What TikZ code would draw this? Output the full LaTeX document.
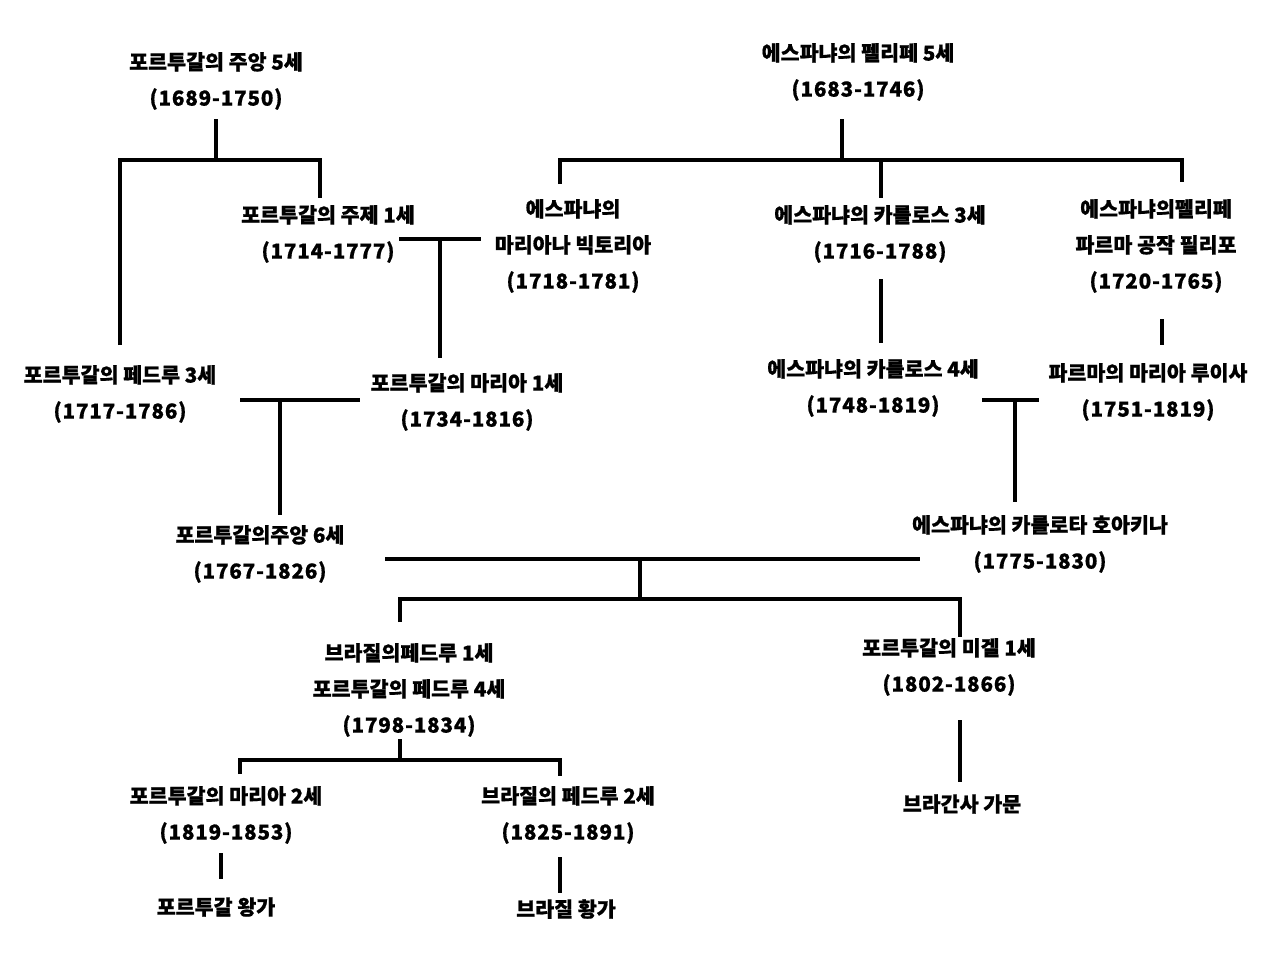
\documentclass[tikz,border=0pt]{standalone}
\usepackage{fontspec}
\setmainfont{Noto Sans CJK KR}[BoldFeatures={FakeBold=0.8}]
\newfontfamily\datefont{Noto Sans CJK KR}[LetterSpace=4,BoldFeatures={FakeBold=0.8}]
\newcommand\dt[1]{{\datefont\bfseries #1}}
\tikzset{
  lbl/.style={align=center, inner sep=0pt, text=black,
    font=\fontsize{10.3}{18}\selectfont\bfseries},
  ln/.style={line width=2pt, draw=black},
}
\begin{document}
\begin{tikzpicture}[x=0.5pt,y=-0.5pt]
\fill[white] (0,0) rectangle (1280,960);
\useasboundingbox (0,0) rectangle (1280,960);

% people
\node[lbl] (joao5) at (216,81) {포르투갈의 주앙 5세\\\dt{(1689-1750)}};
\node[lbl] (felipe5) at (858,72) {에스파냐의 펠리페 5세\\\dt{(1683-1746)}};
\node[lbl] (jose1) at (328,234) {포르투갈의 주제 1세\\\dt{(1714-1777)}};
\node[lbl] (mariana) at (573,246) {에스파냐의\\마리아나 빅토리아\\\dt{(1718-1781)}};
\node[lbl] (carlos3) at (880,234) {에스파냐의 카를로스 3세\\\dt{(1716-1788)}};
\node[lbl] (felipeparma) at (1156,246) {에스파냐의펠리페\\파르마 공작 필리포\\\dt{(1720-1765)}};
\node[lbl] (pedro3) at (120,394) {포르투갈의 페드루 3세\\\dt{(1717-1786)}};
\node[lbl] (maria1) at (467,402) {포르투갈의 마리아 1세\\\dt{(1734-1816)}};
\node[lbl] (carlos4) at (873,388) {에스파냐의 카를로스 4세\\\dt{(1748-1819)}};
\node[lbl] (mluisa) at (1148,392) {파르마의 마리아 루이사\\\dt{(1751-1819)}};
\node[lbl] (joao6) at (260,554) {포르투갈의주앙 6세\\\dt{(1767-1826)}};
\node[lbl] (carlota) at (1040,544) {에스파냐의 카를로타 호아키나\\\dt{(1775-1830)}};
\node[lbl] (pedro1) at (409,690) {브라질의페드루 1세\\포르투갈의 페드루 4세\\\dt{(1798-1834)}};
\node[lbl] (miguel) at (949,667) {포르투갈의 미겔 1세\\\dt{(1802-1866)}};
\node[lbl] (maria2) at (226,815) {포르투갈의 마리아 2세\\\dt{(1819-1853)}};
\node[lbl] (pedro2) at (568,815) {브라질의 페드루 2세\\\dt{(1825-1891)}};
\node[lbl] (portroyal) at (216,907) {포르투갈 왕가};
\node[lbl] (brazilroyal) at (566,909) {브라질 황가};
\node[lbl] (braganza) at (962,804) {브라간사 가문};

% Joao V's children
\coordinate (j5t) at (216,119); \coordinate (j5m) at (216,160);
\coordinate (j5L) at (120,160); \coordinate (j5Lb) at (120,345);
\coordinate (j5R) at (320,160); \coordinate (j5Rb) at (320,198);
\draw[ln] (j5t) -- (j5m);
\draw[ln] (j5Lb) -- (j5L) -- (j5R) -- (j5Rb);

% Jose I -- Mariana Victoria
\coordinate (jmL) at (399,239); \coordinate (jmR) at (481,239);
\coordinate (jmT) at (440,239); \coordinate (jmB) at (440,358);
\draw[ln] (jmL) -- (jmR);
\draw[ln] (jmT) -- (jmB);

% Felipe V's children
\coordinate (f5t) at (842,119); \coordinate (f5m) at (842,160);
\coordinate (f5L) at (560,160); \coordinate (f5Lb) at (560,184);
\coordinate (f5M) at (881,160); \coordinate (f5Mb) at (881,198);
\coordinate (f5R) at (1182,160); \coordinate (f5Rb) at (1182,182);
\draw[ln] (f5t) -- (f5m);
\draw[ln] (f5Lb) -- (f5L) -- (f5R) -- (f5Rb);
\draw[ln] (f5M) -- (f5Mb);

% Carlos III -> Carlos IV ; Felipe of Parma -> Maria Luisa
\coordinate (c3a) at (881,279); \coordinate (c3b) at (881,343);
\draw[ln] (c3a) -- (c3b);
\coordinate (fpa) at (1162,319); \coordinate (fpb) at (1162,345);
\draw[ln] (fpa) -- (fpb);

% Pedro III -- Maria I -> Joao VI
\coordinate (pmL) at (240,400); \coordinate (pmR) at (360,400);
\coordinate (pmT) at (280,400); \coordinate (pmB) at (280,515);
\draw[ln] (pmL) -- (pmR);
\draw[ln] (pmT) -- (pmB);

% Carlos IV -- Maria Luisa -> Carlota
\coordinate (clL) at (982,400); \coordinate (clR) at (1039,400);
\coordinate (clT) at (1015,400); \coordinate (clB) at (1015,502);
\draw[ln] (clL) -- (clR);
\draw[ln] (clT) -- (clB);

% Joao VI -- Carlota -> children
\coordinate (jcL) at (385,559); \coordinate (jcR) at (920,559);
\coordinate (jcT) at (640,559); \coordinate (jcM) at (640,599);
\coordinate (jcCL) at (400,599); \coordinate (jcCLb) at (400,622);
\coordinate (jcCR) at (960,599); \coordinate (jcCRb) at (960,637);
\draw[ln] (jcL) -- (jcR);
\draw[ln] (jcT) -- (jcM);
\draw[ln] (jcCLb) -- (jcCL) -- (jcCR) -- (jcCRb);

% Pedro I's children
\coordinate (p1t) at (400,739); \coordinate (p1m) at (400,760);
\coordinate (p1L) at (240,760); \coordinate (p1Lb) at (240,774);
\coordinate (p1R) at (560,760); \coordinate (p1Rb) at (560,776);
\draw[ln] (p1t) -- (p1m);
\draw[ln] (p1Lb) -- (p1L) -- (p1R) -- (p1Rb);

% descendants
\coordinate (m2a) at (221,853); \coordinate (m2b) at (221,879);
\draw[ln] (m2a) -- (m2b);
\coordinate (p2a) at (560,857); \coordinate (p2b) at (560,893);
\draw[ln] (p2a) -- (p2b);
\coordinate (mga) at (960,720); \coordinate (mgb) at (960,782);
\draw[ln] (mga) -- (mgb);
\end{tikzpicture}
\end{document}
